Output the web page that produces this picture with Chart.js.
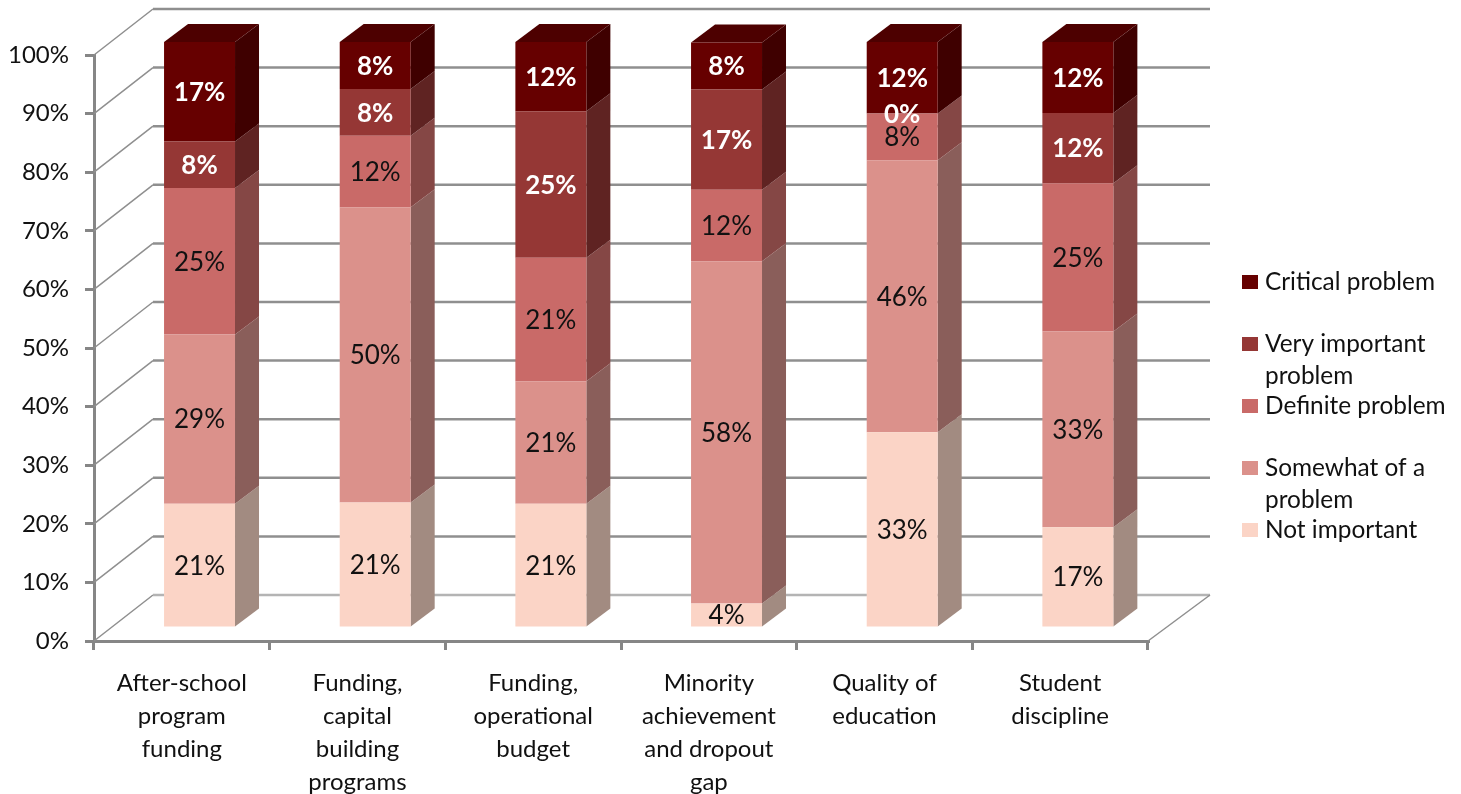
<!DOCTYPE html>
<html>
<head>
<meta charset="utf-8">
<title>Problem ratings</title>
<script src="https://cdn.jsdelivr.net/npm/chart.js@4"></script>
<style>
  html, body { margin: 0; background: #fff; }
  canvas { display: block; }
</style>
</head>
<body>
<canvas id="grafico" width="1461" height="794"></canvas>
<script>
const categories = [
  ["After-school", "program", "funding"],
  ["Funding,", "capital", "building", "programs"],
  ["Funding,", "operational", "budget"],
  ["Minority", "achievement", "and dropout", "gap"],
  ["Quality of", "education"],
  ["Student", "discipline"],
];

const notImportant = [21.2, 21.4, 21.2, 4.2, 33.4, 17.2];
const somewhat = [28.9, 50.4, 20.9, 58.4, 46.4, 33.4];
const definite = [25.0, 12.2, 21.1, 12.2, 8.0, 25.3];
const veryImportant = [7.9, 8.0, 25.0, 17.1, 0, 12.0];
const critical = [17.0, 8.0, 11.8, 8.0, 12.2, 12.1];

const legendLabels = [
  ["Critical problem"],
  ["Very important", "problem"],
  ["Definite problem"],
  ["Somewhat of a", "problem"],
  ["Not important"],
];

const FONT = "Lato";
const AXIS_COLOR = "#868686";
const WALL_COLOR = "#8f8f8f";
// depth of the back wall and of the bars
const WALL_DX = 59, WALL_DY = 46;
const BAR_DX = 24, BAR_DY = 18;
// bars sit halfway into the floor
const SHIFT_X = 17.7, SHIFT_Y = -13;

function serie(label, data, color, side, text) {
  return { label, data, backgroundColor: color, side, text, borderWidth: 0, barPercentage: 0.404, categoryPercentage: 1 };
}

const datasets = [
  serie("Not important", notImportant, "#fbd4c6", "#a28b81", "#111"),
  serie("Somewhat of a problem", somewhat, "#db918b", "#8a5e5a", "#111"),
  serie("Definite problem", definite, "#c96a68", "#854745", "#111"),
  serie("Very important problem", veryImportant, "#953735", "#5f2322", "#fff"),
  serie("Critical problem", critical, "#660000", "#3f0000", "#fff"),
];

function poligono(ctx, pontos, cor) {
  ctx.fillStyle = cor;
  ctx.beginPath();
  pontos.forEach((p, i) => (i ? ctx.lineTo(p[0], p[1]) : ctx.moveTo(p[0], p[1])));
  ctx.closePath();
  ctx.fill();
}

function desenharParedes(chart) {
  const ctx = chart.ctx;
  const { left, right } = chart.chartArea;
  const y = chart.scales.y;
  ctx.save();
  y.ticks.forEach((t) => {
    const py = y.getPixelForValue(t.value);
    ctx.strokeStyle = WALL_COLOR;
    ctx.lineWidth = 1.5;
    ctx.beginPath();
    ctx.moveTo(left, py);
    ctx.lineTo(left + WALL_DX, py - WALL_DY);
    ctx.stroke();
    ctx.strokeStyle = t.value === 0 ? "#b4b4b4" : WALL_COLOR;
    ctx.lineWidth = 2.5;
    ctx.beginPath();
    ctx.moveTo(left + WALL_DX, py - WALL_DY);
    ctx.lineTo(right + 62, py - WALL_DY);
    ctx.stroke();
  });
  // right edge of the floor
  const base = y.getPixelForValue(0);
  ctx.strokeStyle = WALL_COLOR;
  ctx.lineWidth = 1.5;
  ctx.beginPath();
  ctx.moveTo(right, base);
  ctx.lineTo(right + 62, base - WALL_DY);
  ctx.stroke();
  ctx.restore();
}

function desenharLaterais(chart) {
  const ctx = chart.ctx;
  chart.data.datasets.forEach((ds, i) => {
    chart.getDatasetMeta(i).data.forEach((bar) => {
      const d = bar.x + bar.width / 2;
      poligono(ctx, [[d, bar.y], [d + BAR_DX, bar.y - BAR_DY], [d + BAR_DX, bar.base - BAR_DY], [d, bar.base]], ds.side);
      if (i === chart.data.datasets.length - 1) {
        const e = bar.x - bar.width / 2;
        poligono(ctx, [[e, bar.y], [e + BAR_DX, bar.y - BAR_DY], [d + BAR_DX, bar.y - BAR_DY], [d, bar.y]], "#4d0000");
      }
    });
  });
}

function desenharRotulos(chart) {
  const ctx = chart.ctx;
  ctx.save();
  ctx.textAlign = "center";
  ctx.textBaseline = "middle";
  chart.data.datasets.forEach((ds, i) => {
    ctx.font = (ds.text === "#fff" ? "bold " : "") + "26px " + FONT;
    ctx.fillStyle = ds.text;
    chart.getDatasetMeta(i).data.forEach((bar, j) => {
      ctx.fillText(Math.round(ds.data[j]) + "%", bar.x + SHIFT_X, (bar.y + bar.base) / 2 + SHIFT_Y + 1);
    });
  });
  ctx.restore();
}

function desenharLegenda(chart) {
  const ctx = chart.ctx;
  const total = chart.data.datasets.length;
  ctx.save();
  ctx.font = "24.4px " + FONT;
  ctx.textBaseline = "middle";
  legendLabels.forEach((linhas, i) => {
    const y = 282 + i * 62;
    ctx.fillStyle = chart.data.datasets[total - 1 - i].backgroundColor;
    ctx.fillRect(1242, y - 7, 16, 14);
    ctx.fillStyle = "#111";
    linhas.forEach((linha, k) => ctx.fillText(linha, 1265, y + k * 32));
  });
  ctx.restore();
}

const barras3d = {
  id: "barras3d",
  beforeDatasetsDraw(chart) {
    desenharParedes(chart);
    chart.ctx.save();
    chart.ctx.translate(SHIFT_X, SHIFT_Y);
    desenharLaterais(chart);
  },
  afterDatasetsDraw(chart) {
    chart.ctx.restore();
    desenharRotulos(chart);
    desenharLegenda(chart);
  },
};

new Chart(document.getElementById("grafico"), {
  type: "bar",
  data: { labels: categories, datasets },
  plugins: [barras3d],
  options: {
    responsive: false,
    animation: false,
    layout: { padding: { top: 55, right: 313, left: 0, bottom: 0 } },
    plugins: { legend: { display: false }, tooltip: { enabled: false } },
    scales: {
      x: {
        stacked: true,
        afterFit(scale) { scale.height = 153; },
        border: { display: true, color: AXIS_COLOR, width: 3 },
        grid: { offset: true, drawOnChartArea: false, drawTicks: true, tickLength: 9, color: AXIS_COLOR, lineWidth: 3 },
        ticks: { color: "#111", padding: 17, maxRotation: 0, autoSkip: false, font: { family: FONT, size: 24, lineHeight: 1.37 } },
      },
      y: {
        stacked: true,
        min: 0,
        max: 100,
        afterFit(scale) { scale.width = 94; },
        border: { display: true, color: AXIS_COLOR, width: 3 },
        grid: { drawOnChartArea: false, drawTicks: true, tickLength: 9, color: AXIS_COLOR, lineWidth: 3 },
        ticks: { color: "#111", padding: 16, stepSize: 10, callback: (v) => v + "%", font: { family: FONT, size: 24 } },
      },
    },
  },
});
</script>
</body>
</html>
